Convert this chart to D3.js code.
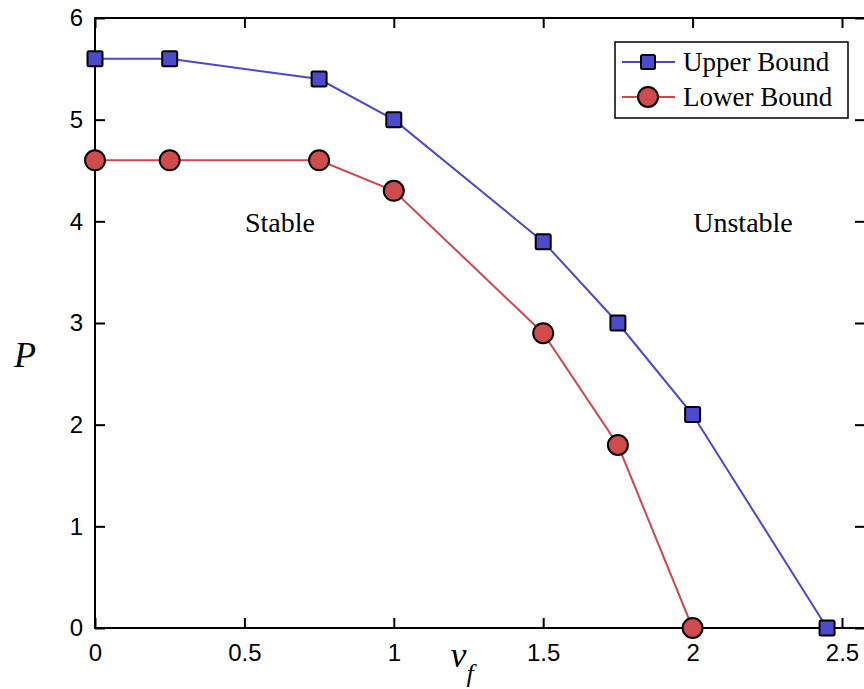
<!DOCTYPE html>
<html>
<head>
<meta charset="utf-8">
<script src="https://cdn.jsdelivr.net/npm/d3@7"></script>
<style>
  html, body { margin: 0; padding: 0; background: #fff; }
  svg { display: block; }
</style>
</head>
<body>
<svg id="chart" width="864" height="689"></svg>
<script>
// Stability boundary data
const upperX = [0, 0.25, 0.75, 1, 1.5, 1.75, 2, 2.45];
const upperP = [5.6, 5.6, 5.4, 5.0, 3.8, 3.0, 2.1, 0];
const lowerX = [0, 0.25, 0.75, 1, 1.5, 1.75, 2];
const lowerP = [4.6, 4.6, 4.6, 4.3, 2.9, 1.8, 0];
const xTicks = [0, 0.5, 1, 1.5, 2, 2.5];
const xTickLabels = ["0", "0.5", "1", "1.5", "2", "2.5"];
const yTicks = [0, 1, 2, 3, 4, 5, 6];
const seriesNames = ["Upper Bound", "Lower Bound"];
const regionLabels = ["Stable", "Unstable"];

(function () {
const svg = d3.select("#chart");
const plotL = 95, plotR = 865, plotT = 18, plotB = 628;

const x = d3.scaleLinear().domain([0, 2.577]).range([plotL, plotR]);
const y = d3.scaleLinear().domain([0, 6]).range([plotB, plotT]);

const blueLine = "#4a48cc", blueFill = "#4b4bcc";
const redLine = "#cc4a4e", redFill = "#d04b4b";

// Frame
svg.append("rect")
  .attr("x", plotL).attr("y", plotT)
  .attr("width", plotR - plotL).attr("height", plotB - plotT)
  .attr("fill", "none").attr("stroke", "#000").attr("stroke-width", 2);

const tickLen = 10;
const tickFont = "'Liberation Sans', Arial, sans-serif";
const tickSize = 24;

// Bottom axis (inward ticks)
const xAxis = d3.axisBottom(x).tickValues(xTicks)
  .tickFormat((d, i) => xTickLabels[i])
  .tickSizeInner(-tickLen).tickSizeOuter(0).tickPadding(16);
const gx = svg.append("g").attr("transform", `translate(0,${plotB})`).call(xAxis);
gx.select(".domain").remove();
gx.selectAll("line").attr("stroke-width", 2);
gx.selectAll("text").attr("font-family", tickFont).attr("font-size", tickSize).attr("fill", "#000");

// Top axis (inward ticks)
const gxt = svg.append("g").attr("transform", `translate(0,${plotT})`)
  .call(d3.axisTop(x).tickValues(xTicks).tickFormat("").tickSizeInner(-tickLen).tickSizeOuter(0));
gxt.select(".domain").remove();
gxt.selectAll("line").attr("stroke-width", 2);

// Left axis
const yAxis = d3.axisLeft(y).tickValues(yTicks).tickFormat(d3.format("d"))
  .tickSizeInner(-tickLen).tickSizeOuter(0).tickPadding(12);
const gy = svg.append("g").attr("transform", `translate(${plotL},0)`).call(yAxis);
gy.select(".domain").remove();
gy.selectAll("line").attr("stroke-width", 2);
gy.selectAll("text").attr("font-family", tickFont).attr("font-size", tickSize).attr("fill", "#000");

// Right axis
const gyr = svg.append("g").attr("transform", `translate(${plotR},0)`)
  .call(d3.axisRight(y).tickValues(yTicks).tickFormat("").tickSizeInner(-tickLen).tickSizeOuter(0));
gyr.select(".domain").remove();
gyr.selectAll("line").attr("stroke-width", 2);

// Series
const upper = upperX.map((v, i) => [v, upperP[i]]);
const lower = lowerX.map((v, i) => [v, lowerP[i]]);
const line = d3.line().x(d => x(d[0])).y(d => y(d[1]));

svg.append("path").datum(upper).attr("d", line)
  .attr("fill", "none").attr("stroke", blueLine).attr("stroke-width", 2);
svg.append("path").datum(lower).attr("d", line)
  .attr("fill", "none").attr("stroke", redLine).attr("stroke-width", 2);

const sq = 15;
svg.append("g").selectAll("rect").data(upper).join("rect")
  .attr("x", d => x(d[0]) - sq / 2).attr("y", d => y(d[1]) - sq / 2)
  .attr("width", sq).attr("height", sq).attr("rx", 1.5)
  .attr("fill", blueFill).attr("stroke", "#000").attr("stroke-width", 2);

svg.append("g").selectAll("circle").data(lower).join("circle")
  .attr("cx", d => x(d[0])).attr("cy", d => y(d[1])).attr("r", 10)
  .attr("fill", redFill).attr("stroke", "#000").attr("stroke-width", 2);

const serif = "'Liberation Serif', 'Times New Roman', serif";

// Region labels
svg.append("text").attr("x", 280).attr("y", 232).attr("text-anchor", "middle")
  .attr("font-family", serif).attr("font-size", 28).text(regionLabels[0]);
svg.append("text").attr("x", 743).attr("y", 232).attr("text-anchor", "middle")
  .attr("font-family", serif).attr("font-size", 28).text(regionLabels[1]);

// Axis labels
svg.append("text").attr("x", 25).attr("y", 367).attr("text-anchor", "middle")
  .attr("font-family", serif).attr("font-style", "italic").attr("font-size", 36).text("P");
const vf = svg.append("text").attr("x", 462).attr("y", 667).attr("text-anchor", "middle")
  .attr("font-family", serif).attr("font-style", "italic").attr("font-size", 36);
vf.append("tspan").text("v");
vf.append("tspan").attr("dy", 15).attr("font-size", 26).text("f");

// Legend
const lg = svg.append("g");
lg.append("rect").attr("x", 615).attr("y", 42).attr("width", 233).attr("height", 76)
  .attr("fill", "#fff").attr("stroke", "#000").attr("stroke-width", 1.5);
const rows = [
  { name: seriesNames[0], color: blueLine, fill: blueFill, shape: "sq", cy: 62 },
  { name: seriesNames[1], color: redLine, fill: redFill, shape: "ci", cy: 97 }
];
rows.forEach(r => {
  lg.append("line").attr("x1", 622).attr("x2", 675).attr("y1", r.cy).attr("y2", r.cy)
    .attr("stroke", r.color).attr("stroke-width", 2);
  if (r.shape === "sq") {
    lg.append("rect").attr("x", 648 - 7).attr("y", r.cy - 7).attr("width", 14).attr("height", 14)
      .attr("rx", 1.5).attr("fill", r.fill).attr("stroke", "#000").attr("stroke-width", 2);
  } else {
    lg.append("circle").attr("cx", 648).attr("cy", r.cy).attr("r", 10)
      .attr("fill", r.fill).attr("stroke", "#000").attr("stroke-width", 2);
  }
  lg.append("text").attr("x", 683).attr("y", r.cy + 9)
    .attr("font-family", serif).attr("font-size", 27).text(r.name);
});
})();
</script>
</body>
</html>
